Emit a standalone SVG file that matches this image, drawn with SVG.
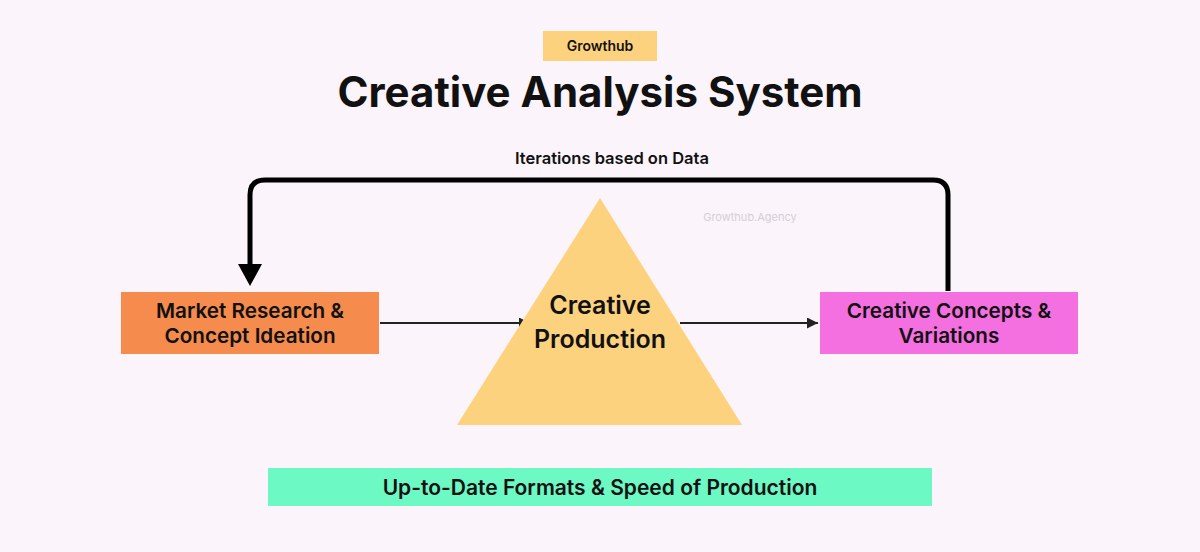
<svg xmlns="http://www.w3.org/2000/svg" width="1200" height="552" viewBox="0 0 1200 552">
<defs>
<style>
text{font-family:Inter,"Noto Sans","Liberation Sans",sans-serif;fill:#111;text-anchor:middle}
.node{font-size:20.7px;font-weight:600}
.thin{stroke:#222;stroke-width:2;fill:none}
</style>
<marker id="ah" viewBox="0 0 10 10" refX="10" refY="5" markerWidth="11" markerHeight="11" markerUnits="userSpaceOnUse" orient="auto"><path d="M0,0 L10,5 L0,10 Z" fill="#222"/></marker>
</defs>
<rect width="1200" height="552" fill="#FBF4FB"/>
<g id="tag"><rect x="543" y="31" width="114" height="30" fill="#FDD27E"/><text x="600" y="51" font-size="14" font-weight="600">Growthub</text></g>
<g id="title"><text x="600" y="107" font-size="42" font-weight="700">Creative Analysis System</text></g>
<g id="watermark"><text x="750" y="221" font-size="11" style="fill:#D6CED6">Growthub.Agency</text></g>
<g id="connectors">
<path d="M948,291 V195 Q948,180 933,180 H265 Q250,180 250,195 V266" fill="none" stroke="#000" stroke-width="5"/>
<path d="M238,264 L262,264 L250,286 Z" fill="#000"/>
<text x="612" y="164" font-size="16.5" font-weight="600">Iterations based on Data</text>
<line x1="380" y1="323" x2="530" y2="323" class="thin" marker-end="url(#ah)"/>
<line x1="680" y1="323" x2="818" y2="323" class="thin" marker-end="url(#ah)"/>
</g>
<g id="market"><rect x="121" y="292" width="258" height="62" fill="#F58B4C"/><text class="node" x="250" y="318">Market Research &amp;</text><text class="node" x="250" y="343">Concept Ideation</text></g>
<g id="production"><path d="M600,198 L742,425 L457,425 Z" fill="#FDD27E"/><text x="600" y="314" font-size="25" font-weight="600">Creative</text><text x="600" y="348" font-size="25" font-weight="600">Production</text></g>
<g id="concepts"><rect x="820" y="292" width="258" height="62" fill="#F46FE0"/><text class="node" x="949" y="318">Creative Concepts &amp;</text><text class="node" x="949" y="343">Variations</text></g>
<g id="formats"><rect x="268" y="468" width="664" height="38" fill="#6CF9C4"/><text x="600" y="495" font-size="21" font-weight="600">Up-to-Date Formats &amp; Speed of Production</text></g>
</svg>
